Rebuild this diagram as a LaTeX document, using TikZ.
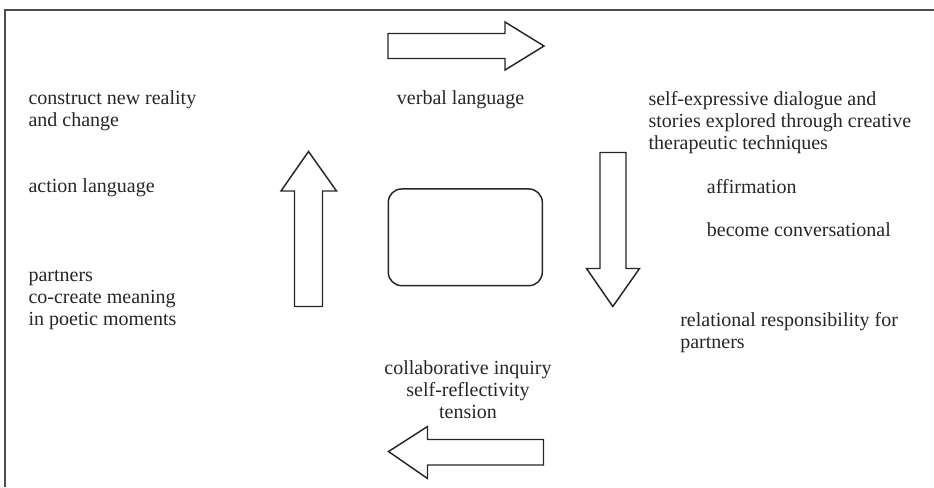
\documentclass[tikz,border=0pt]{standalone}
\usepackage{fontspec}
\setmainfont{Liberation Serif}
\begin{document}
\begin{tikzpicture}[x=0.75pt,y=-0.75pt,
  shp/.style={draw=black!85, line width=1.1pt, line join=miter},
  lbl/.style={font=\fontsize{15pt}{16.5pt}\selectfont, inner sep=0pt, text=black!85, anchor=north west, align=left},
  frame/.style={draw=black!70, line width=1.1pt}]
\useasboundingbox (0,0) rectangle (934,487);
\coordinate (f1) at (5,487);
\coordinate (f2) at (5,10);
\coordinate (f3) at (934,10);
\draw[frame] (f1) -- (f2) -- (f3);
% right arrow (top)
\draw[shp] (388,33.5) -- (505,33.5) -- (505,22) -- (544,46) -- (505,70) -- (505,58.5) -- (388,58.5) -- cycle;
% up arrow (left)
\draw[shp] (294.5,306.5) -- (294.5,191) -- (281,191) -- (308.5,151.5) -- (336.5,191) -- (322.5,191) -- (322.5,306.5) -- cycle;
% down arrow (right)
\draw[shp] (600,152.5) -- (626,152.5) -- (626,268.5) -- (639.5,268.5) -- (612.8,306.5) -- (586.5,268.5) -- (600,268.5) -- cycle;
% left arrow (bottom)
\draw[shp] (543.5,439.5) -- (427.5,439.5) -- (427.5,426.5) -- (388.5,451.5) -- (427.5,478.5) -- (427.5,465) -- (543.5,465) -- cycle;
% centre box
\node[shp, rounded corners=10pt, minimum width=115.5pt, minimum height=72.5pt, inner sep=0pt] (box) at (465.3,237.3) {};
% texts (y = first baseline - 15.4)
\node[lbl] (t1) at (28.3,88.6) {\strut construct new reality\\and change};
\node[lbl] (t2) at (28.3,177.3) {\strut action language};
\node[lbl] (t3) at (28.3,266.3) {\strut partners\\co-create meaning\\in poetic moments};
\node[lbl] (t4) at (396.7,88.6) {\strut verbal language};
\node[lbl] (t5) at (648.3,89.6) {\strut self-expressive dialogue and\\stories explored through creative\\therapeutic techniques};
\node[lbl] (t6) at (706.7,177.9) {\strut affirmation};
\node[lbl] (t7) at (706.7,221.3) {\strut become conversational};
\node[lbl] (t8) at (680,311.3) {\strut relational responsibility for\\partners};
\node[lbl, anchor=north, align=center] (t9) at (468,358.6) {\strut collaborative inquiry\\self-reflectivity\\tension};
\end{tikzpicture}
\end{document}
